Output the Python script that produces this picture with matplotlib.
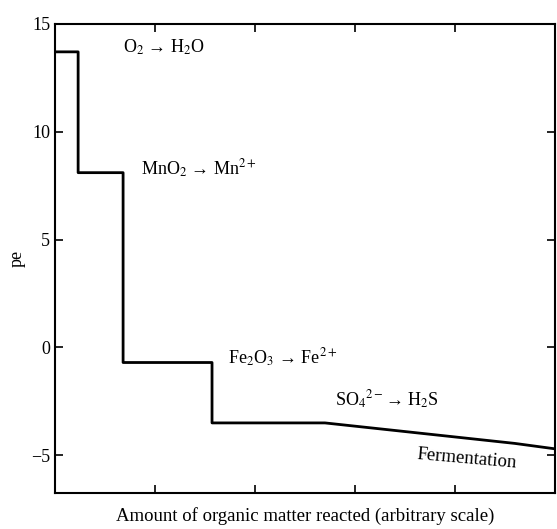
import numpy as np
import matplotlib
matplotlib.use('Agg')
import matplotlib.pyplot as plt

plt.rcParams['font.family'] = ['Liberation Serif', 'DejaVu Serif']
plt.rcParams['mathtext.fontset'] = 'stix'

# step profile of pe vs amount of organic matter reacted
x = [0.0, 0.23, 0.23, 0.68, 0.68, 1.57, 1.57, 2.70, 3.2, 3.7, 4.2, 4.6, 5.0]
pe = [13.7, 13.7, 8.1, 8.1, -0.7, -0.7, -3.5, -3.5, -3.75, -4.0, -4.25, -4.45, -4.7]

labels = ['O$_2$ → H$_2$O', 'MnO$_2$ → Mn$^{2+}$',
          'Fe$_2$O$_3$ → Fe$^{2+}$', 'SO$_4$$^{2-}$→ H$_2$S']
label_x = [0.68, 0.86, 1.73, 2.80]
label_y = [13.9, 8.3, -0.5, -2.45]

fig = plt.figure(figsize=(5.57, 5.29), dpi=100)
ax = fig.add_axes([0.099, 0.068, 0.897, 0.887])

ax.plot(x, pe, 'k-', lw=2)

for t, lx, ly in zip(labels, label_x, label_y):
    ax.text(lx, ly, t, fontsize=13, va='center', ha='left')
ax.text(4.12, -5.15, 'Fermentation', fontsize=13.5, ha='center', va='center', rotation=-5)

ax.set_xlim(0, 5)
ax.set_ylim(-6.75, 15)
ax.set_yticks([-5, 0, 5, 10, 15])
ax.set_yticklabels(['\u22125', '0', '5', '10', '15'])
ax.set_xticks([1, 2, 3, 4])
ax.tick_params(direction='in', top=True, right=True, labelbottom=False,
               labelsize=13, length=6, width=1.2)
for s in ax.spines.values():
    s.set_linewidth(1.5)

ax.set_ylabel('pe', fontsize=13)
ax.set_xlabel('Amount of organic matter reacted (arbitrary scale)', fontsize=13.5, labelpad=10)

fig.savefig('out.png', dpi=100)
